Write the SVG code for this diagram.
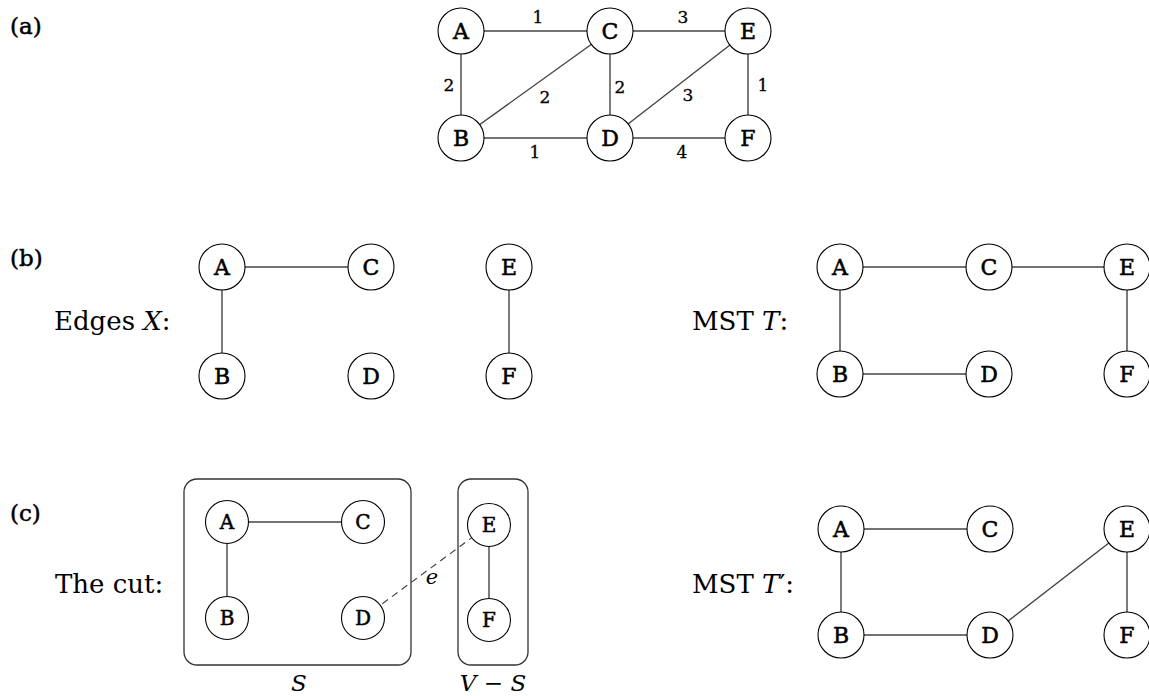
<svg xmlns="http://www.w3.org/2000/svg" width="1149" height="696" viewBox="0 0 1149 696">
<style>
text{font-family:"DejaVu Serif","Liberation Serif",serif;fill:#000}
.n circle{fill:#fff;stroke:#000;stroke-width:1.1}
.n text{font-size:22px;text-anchor:middle;stroke:#000;stroke-width:0.5}
.e{stroke:#444;stroke-width:1.4;fill:none}
.d{stroke:#444;stroke-width:1.2;stroke-dasharray:7 5;fill:none}
.w{font-size:17px;text-anchor:middle;stroke:#000;stroke-width:0.3}
.lab{font-size:23px;stroke:#000;stroke-width:0.5}
.cap{font-size:26px}
.box{fill:none;stroke:#333;stroke-width:1.3}
.it{font-style:italic}
</style>

<text class="lab" x="10" y="34">(a)</text>
<text class="lab" x="10" y="266">(b)</text>
<text class="lab" x="10" y="521">(c)</text>

<text class="cap" x="54" y="330">Edges <tspan class="it">X</tspan>:</text>
<text class="cap" x="692" y="330">MST <tspan class="it">T</tspan>:</text>
<text class="cap" x="55" y="593">The cut:</text>
<text class="cap" x="692" y="593">MST <tspan class="it">T</tspan>′:</text>

<g id="connectors">
  <!-- (a) -->
  <line class="e" x1="461" y1="31" x2="610" y2="31"/>
  <line class="e" x1="610" y1="31" x2="748" y2="31"/>
  <line class="e" x1="461" y1="31" x2="461" y2="138"/>
  <line class="e" x1="461" y1="138" x2="610" y2="31"/>
  <line class="e" x1="610" y1="31" x2="610" y2="138"/>
  <line class="e" x1="610" y1="138" x2="748" y2="31"/>
  <line class="e" x1="748" y1="31" x2="748" y2="138"/>
  <line class="e" x1="461" y1="138" x2="610" y2="138"/>
  <line class="e" x1="610" y1="138" x2="748" y2="138"/>
  <!-- (b) left -->
  <line class="e" x1="222" y1="267" x2="371" y2="267"/>
  <line class="e" x1="222" y1="267" x2="222" y2="376"/>
  <line class="e" x1="509" y1="267" x2="509" y2="376"/>
  <!-- (b) right -->
  <line class="e" x1="840" y1="267" x2="989" y2="267"/>
  <line class="e" x1="989" y1="267" x2="1127" y2="267"/>
  <line class="e" x1="840" y1="267" x2="840" y2="374"/>
  <line class="e" x1="840" y1="374" x2="989" y2="374"/>
  <line class="e" x1="1127" y1="267" x2="1127" y2="374"/>
  <!-- (c) left -->
  <line class="e" x1="227" y1="522" x2="363" y2="522"/>
  <line class="e" x1="227" y1="522" x2="227" y2="618"/>
  <line class="e" x1="489" y1="525" x2="489" y2="620"/>
  <line class="d" x1="363" y1="618" x2="489" y2="525"/>
  <!-- (c) right -->
  <line class="e" x1="841" y1="529" x2="990" y2="529"/>
  <line class="e" x1="841" y1="529" x2="841" y2="635"/>
  <line class="e" x1="841" y1="635" x2="990" y2="635"/>
  <line class="e" x1="990" y1="635" x2="1127" y2="529"/>
  <line class="e" x1="1127" y1="529" x2="1127" y2="635"/>
</g>

<g id="weights">
  <text class="w" x="538" y="23">1</text>
  <text class="w" x="683" y="23">3</text>
  <text class="w" x="449" y="91">2</text>
  <text class="w" x="545" y="103">2</text>
  <text class="w" x="620" y="93">2</text>
  <text class="w" x="688" y="101">3</text>
  <text class="w" x="763" y="91">1</text>
  <text class="w" x="535" y="158">1</text>
  <text class="w" x="682" y="158">4</text>
</g>

<g id="cut-boxes">
  <rect class="box" x="184" y="479" width="227" height="186" rx="13"/>
  <rect class="box" x="458" y="479" width="70" height="186" rx="13"/>
  <text class="it" x="299" y="691" text-anchor="middle" style="font-size:23px">S</text>
  <text x="493" y="691" text-anchor="middle" style="font-size:23px"><tspan class="it">V</tspan> − <tspan class="it">S</tspan></text>
  <text class="it" x="432" y="584" text-anchor="middle" style="font-size:21px">e</text>
</g>

<!-- (a) nodes -->
<g id="a-A" class="n"><circle cx="461" cy="31" r="23"/><text x="461" y="39">A</text></g>
<g id="a-C" class="n"><circle cx="610" cy="31" r="23"/><text x="610" y="39">C</text></g>
<g id="a-E" class="n"><circle cx="748" cy="31" r="23"/><text x="748" y="39">E</text></g>
<g id="a-B" class="n"><circle cx="461" cy="138" r="23"/><text x="461" y="146">B</text></g>
<g id="a-D" class="n"><circle cx="610" cy="138" r="23"/><text x="610" y="146">D</text></g>
<g id="a-F" class="n"><circle cx="748" cy="138" r="23"/><text x="748" y="146">F</text></g>

<!-- (b) left nodes -->
<g id="bx-A" class="n"><circle cx="222" cy="267" r="23"/><text x="222" y="275">A</text></g>
<g id="bx-C" class="n"><circle cx="371" cy="267" r="23"/><text x="371" y="275">C</text></g>
<g id="bx-E" class="n"><circle cx="509" cy="267" r="23"/><text x="509" y="275">E</text></g>
<g id="bx-B" class="n"><circle cx="222" cy="376" r="23"/><text x="222" y="384">B</text></g>
<g id="bx-D" class="n"><circle cx="371" cy="376" r="23"/><text x="371" y="384">D</text></g>
<g id="bx-F" class="n"><circle cx="509" cy="376" r="23"/><text x="509" y="384">F</text></g>

<!-- (b) right nodes -->
<g id="bt-A" class="n"><circle cx="840" cy="267" r="23"/><text x="840" y="275">A</text></g>
<g id="bt-C" class="n"><circle cx="989" cy="267" r="23"/><text x="989" y="275">C</text></g>
<g id="bt-E" class="n"><circle cx="1127" cy="267" r="23"/><text x="1127" y="275">E</text></g>
<g id="bt-B" class="n"><circle cx="840" cy="374" r="23"/><text x="840" y="382">B</text></g>
<g id="bt-D" class="n"><circle cx="989" cy="374" r="23"/><text x="989" y="382">D</text></g>
<g id="bt-F" class="n"><circle cx="1127" cy="374" r="23"/><text x="1127" y="382">F</text></g>

<!-- (c) left nodes -->
<g id="cs-A" class="n"><circle cx="227" cy="522" r="21.5"/><text x="227" y="529" style="font-size:20px">A</text></g>
<g id="cs-C" class="n"><circle cx="363" cy="522" r="21.5"/><text x="363" y="529" style="font-size:20px">C</text></g>
<g id="cs-E" class="n"><circle cx="489" cy="525" r="21.5"/><text x="489" y="532" style="font-size:20px">E</text></g>
<g id="cs-B" class="n"><circle cx="227" cy="618" r="21.5"/><text x="227" y="625" style="font-size:20px">B</text></g>
<g id="cs-D" class="n"><circle cx="363" cy="618" r="21.5"/><text x="363" y="625" style="font-size:20px">D</text></g>
<g id="cs-F" class="n"><circle cx="489" cy="620" r="21.5"/><text x="489" y="627" style="font-size:20px">F</text></g>

<!-- (c) right nodes -->
<g id="ct-A" class="n"><circle cx="841" cy="529" r="23"/><text x="841" y="537">A</text></g>
<g id="ct-C" class="n"><circle cx="990" cy="529" r="23"/><text x="990" y="537">C</text></g>
<g id="ct-E" class="n"><circle cx="1127" cy="529" r="23"/><text x="1127" y="537">E</text></g>
<g id="ct-B" class="n"><circle cx="841" cy="635" r="23"/><text x="841" y="643">B</text></g>
<g id="ct-D" class="n"><circle cx="990" cy="635" r="23"/><text x="990" y="643">D</text></g>
<g id="ct-F" class="n"><circle cx="1127" cy="635" r="23"/><text x="1127" y="643">F</text></g>
</svg>
